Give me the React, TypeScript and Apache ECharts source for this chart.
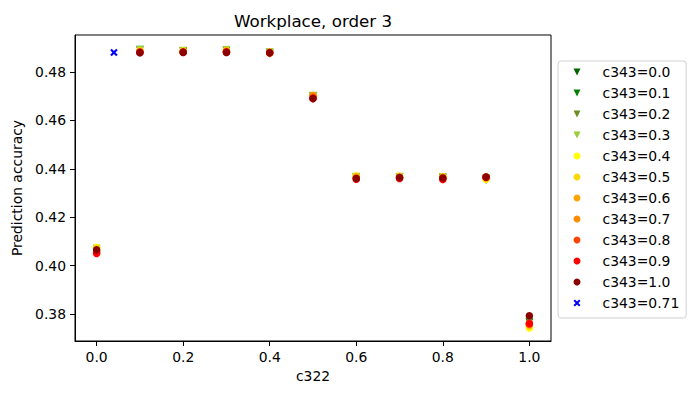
import React, { useEffect, useRef } from "react";
import * as echarts from "echarts";

const c322 = [0.0, 0.1, 0.2, 0.3, 0.4, 0.5, 0.6, 0.7, 0.8, 0.9, 1.0];

const acc00 = [0.4065, 0.4890, 0.4885, 0.4888, 0.4874, 0.4700, 0.4363, 0.4365, 0.4362, 0.4353, 0.3765];
const acc01 = [0.4068, 0.4893, 0.4887, 0.4890, 0.4880, 0.4702, 0.4365, 0.4367, 0.4364, 0.4358, 0.3768];
const acc02 = [0.4070, 0.4891, 0.4888, 0.4891, 0.4882, 0.4701, 0.4367, 0.4366, 0.4365, 0.4360, 0.3770];
const acc03 = [0.4072, 0.4892, 0.4889, 0.4892, 0.4883, 0.4703, 0.4368, 0.4368, 0.4366, 0.4362, 0.3748];
const acc04 = [0.4075, 0.4888, 0.4887, 0.4889, 0.4883, 0.4700, 0.4370, 0.4368, 0.4366, 0.4357, 0.3742];
const acc05 = [0.4073, 0.4887, 0.4886, 0.4888, 0.4882, 0.4701, 0.4369, 0.4369, 0.4367, 0.4360, 0.3750];
const acc06 = [0.4062, 0.4886, 0.4885, 0.4887, 0.4881, 0.4703, 0.4366, 0.4367, 0.4365, 0.4366, 0.3755];
const acc07 = [0.4058, 0.4884, 0.4884, 0.4886, 0.4880, 0.4702, 0.4364, 0.4365, 0.4364, 0.4367, 0.3758];
const acc08 = [0.4054, 0.4882, 0.4883, 0.4884, 0.4879, 0.4695, 0.4360, 0.4362, 0.4360, 0.4365, 0.3762];
const acc09 = [0.4050, 0.4881, 0.4882, 0.4882, 0.4880, 0.4690, 0.4357, 0.4360, 0.4356, 0.4364, 0.3760];
const acc10 = [0.4065, 0.4880, 0.4881, 0.4881, 0.4880, 0.4690, 0.4360, 0.4364, 0.4362, 0.4366, 0.3793];

const extraX = [0.04];
const extraY = [0.4881];

const yTicks = [0.38, 0.40, 0.42, 0.44, 0.46, 0.48];
const xTicks = [0.0, 0.2, 0.4, 0.6, 0.8, 1.0];

const TRI = "path://M0,0L2,0L1,2Z";
const CROSS = "path://M0,2L2,0L5,3L8,0L10,2L7,5L10,8L8,10L5,7L2,10L0,8L3,5Z";

const seriesDefs = [
  { name: "c343=0.0", x: c322, y: acc00, color: "#006400", symbol: TRI },
  { name: "c343=0.1", x: c322, y: acc01, color: "#008000", symbol: TRI },
  { name: "c343=0.2", x: c322, y: acc02, color: "#6b8e23", symbol: TRI },
  { name: "c343=0.3", x: c322, y: acc03, color: "#9acd32", symbol: TRI },
  { name: "c343=0.4", x: c322, y: acc04, color: "#ffff00", symbol: "circle" },
  { name: "c343=0.5", x: c322, y: acc05, color: "#ffd700", symbol: "circle" },
  { name: "c343=0.6", x: c322, y: acc06, color: "#ffa500", symbol: "circle" },
  { name: "c343=0.7", x: c322, y: acc07, color: "#ff8c00", symbol: "circle" },
  { name: "c343=0.8", x: c322, y: acc08, color: "#ff4500", symbol: "circle" },
  { name: "c343=0.9", x: c322, y: acc09, color: "#ff0000", symbol: "circle" },
  { name: "c343=1.0", x: c322, y: acc10, color: "#8b0000", symbol: "circle" },
  { name: "c343=0.71", x: extraX, y: extraY, color: "#0000ff", symbol: CROSS },
];

const FONT = "DejaVu Sans";

export default function App() {
  const ref = useRef<HTMLDivElement>(null);
  useEffect(() => {
    if (!ref.current) return;
    const chart = echarts.init(ref.current, null, { renderer: "svg" });
    chart.setOption({
      animation: false,
      backgroundColor: "#ffffff",
      title: {
        text: "Workplace, order 3",
        left: 313,
        top: 12,
        padding: 0,
        textAlign: "center",
        textStyle: { fontFamily: FONT, fontSize: 16.7, fontWeight: "normal", color: "#000" },
      },
      grid: {
        left: 75,
        top: 35,
        width: 476,
        height: 306,
        show: true,
        borderColor: "#000",
        borderWidth: 1,
        backgroundColor: "transparent",
      },
      xAxis: {
        type: "value",
        min: -0.05,
        max: 1.05,
        name: "c322",
        nameLocation: "middle",
        nameGap: 27,
        nameTextStyle: { fontFamily: FONT, fontSize: 13.9, color: "#000" },
        axisLine: { show: true, onZero: false, lineStyle: { color: "#000", width: 1 } },
        axisTick: { show: true, length: 5, customValues: xTicks, lineStyle: { color: "#000" } },
        axisLabel: {
          customValues: xTicks,
          margin: 9,
          fontFamily: FONT,
          fontSize: 13.9,
          color: "#000",
          formatter: (v: number) => v.toFixed(1),
        },
        splitLine: { show: false },
      },
      yAxis: {
        type: "value",
        min: 0.36884,
        max: 0.49529,
        name: "Prediction accuracy",
        nameLocation: "middle",
        nameGap: 44,
        nameTextStyle: { fontFamily: FONT, fontSize: 13.9, color: "#000" },
        axisLine: { show: true, onZero: false, lineStyle: { color: "#000", width: 1 } },
        axisTick: { show: true, length: 5, customValues: yTicks, lineStyle: { color: "#000" } },
        axisLabel: {
          customValues: yTicks,
          margin: 9,
          fontFamily: FONT,
          fontSize: 13.9,
          color: "#000",
          formatter: (v: number) => v.toFixed(2),
        },
        splitLine: { show: false },
      },
      legend: {
        orient: "vertical",
        left: 558,
        top: 61,
        padding: [4, 7, 8, 15.5],
        itemWidth: 7,
        itemHeight: 7,
        itemGap: 7,
        borderColor: "#d0d0d0",
        borderWidth: 1,
        borderRadius: 3,
        backgroundColor: "rgba(255,255,255,0.8)",
        textStyle: {
          fontFamily: FONT,
          fontSize: 13.9,
          color: "#000",
          lineHeight: 14,
          padding: [0, 0, 0, 17],
        },
        data: seriesDefs.map((s) => ({ name: s.name, icon: s.symbol, itemStyle: { color: s.color } })),
      },
      series: seriesDefs.map((s) => ({
        type: "scatter",
        name: s.name,
        symbol: s.symbol,
        symbolSize: 7.5,
        itemStyle: { color: s.color, opacity: 1 },
        data: s.x.map((xv, i) => [xv, s.y[i]]),
      })),
    });
    return () => chart.dispose();
  }, []);
  return (
    <div
      ref={ref}
      style={{ position: "fixed", left: 0, top: 0, width: 700, height: 400 }}
    />
  );
}
